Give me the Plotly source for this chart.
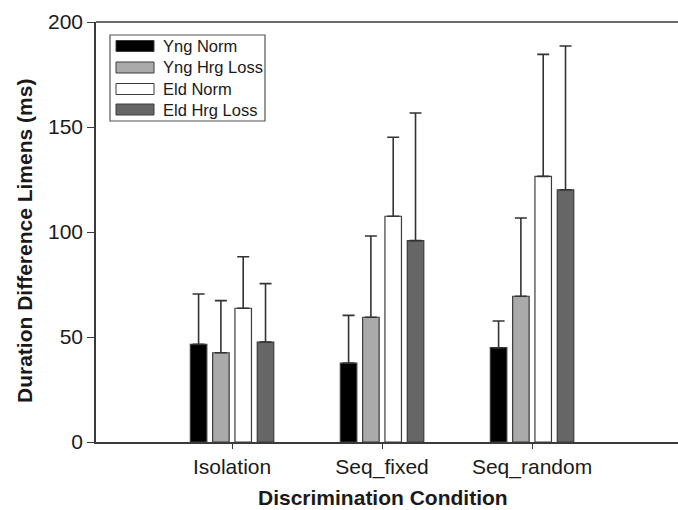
import plotly.graph_objects as go

# Discrimination conditions on the x axis
conditions = ["Isolation", "Seq_fixed", "Seq_random"]

# Group names, fills and mean duration difference limens (ms)
groups = ["Yng Norm", "Yng Hrg Loss", "Eld Norm", "Eld Hrg Loss"]
fills = ["#000000", "#aaaaaa", "#ffffff", "#666666"]

yng_norm = [46.5, 37.6, 44.9]
yng_hrg_loss = [42.5, 59.4, 69.4]
eld_norm = [63.7, 107.5, 126.5]
eld_hrg_loss = [47.6, 95.9, 120.1]

# Upper standard deviation for each group
yng_norm_sd = [24.0, 22.7, 12.7]
yng_hrg_loss_sd = [24.8, 38.7, 37.3]
eld_norm_sd = [24.5, 37.6, 58.1]
eld_hrg_loss_sd = [27.8, 60.8, 68.5]

means = [yng_norm, yng_hrg_loss, eld_norm, eld_hrg_loss]
sds = [yng_norm_sd, yng_hrg_loss_sd, eld_norm_sd, eld_hrg_loss_sd]

FONT = "Liberation Sans, Arial, Helvetica, sans-serif"
AXIS = "#3a3a3a"
TEXT = "#1a1a1a"

fig = go.Figure()
for name, fill, m, sd in zip(groups, fills, means, sds):
    fig.add_trace(go.Bar(
        x=conditions, y=m, name=name,
        marker=dict(color=fill, line=dict(color="#3c3c3c", width=1.2)),
        error_y=dict(type="data", array=sd, symmetric=False,
                     arrayminus=[0] * len(sd),
                     color="#333333", thickness=1.6, width=6),
        showlegend=False,
    ))

# Plot area geometry in pixels (for the hand-drawn legend and titles)
W, H = 678, 510
L, R, T, B = 96, 0, 22, 68
pw, ph = W - L - R, H - T - B

def px_x(x):
    return (x - L) / pw

def px_y(y):
    return (H - B - y) / ph

shapes = [
    # top frame line
    dict(type="line", xref="paper", yref="paper", x0=0, x1=1, y0=1, y1=1,
         line=dict(color=AXIS, width=1.6)),
    # legend box
    dict(type="rect", xref="paper", yref="paper",
         x0=px_x(110), x1=px_x(265), y0=px_y(121), y1=px_y(35),
         line=dict(color="#555555", width=1.2), fillcolor="white"),
]
annotations = []
row_y = [46, 67.5, 89, 109.5]
for name, fill, ry in zip(groups, fills, row_y):
    shapes.append(dict(type="rect", xref="paper", yref="paper",
                       x0=px_x(116), x1=px_x(154),
                       y0=px_y(ry + 5.5), y1=px_y(ry - 5.5),
                       line=dict(color="#3c3c3c", width=1), fillcolor=fill))
    annotations.append(dict(xref="paper", yref="paper", x=px_x(161), y=px_y(ry),
                            text=name, showarrow=False, xanchor="left",
                            yanchor="middle",
                            font=dict(family=FONT, size=16.5, color=TEXT)))

# axis titles
annotations.append(dict(xref="paper", yref="paper", x=px_x(25), y=px_y(241),
                        text="<b>Duration Difference Limens (ms)</b>",
                        textangle=-90, showarrow=False,
                        xanchor="center", yanchor="middle",
                        font=dict(family=FONT, size=21, color=TEXT)))
annotations.append(dict(xref="paper", yref="paper", x=px_x(383), y=px_y(497),
                        text="<b>Discrimination Condition</b>",
                        showarrow=False, xanchor="center", yanchor="middle",
                        font=dict(family=FONT, size=21, color=TEXT)))

fig.update_layout(
    width=W, height=H,
    margin=dict(l=L, r=R, t=T, b=B, pad=0),
    paper_bgcolor="white", plot_bgcolor="white",
    barmode="group", bargap=0.405, bargroupgap=0.26,
    font=dict(family=FONT, color=TEXT),
    shapes=shapes, annotations=annotations,
    xaxis=dict(
        type="category", range=[-0.907, 2.973], automargin=False,
        showline=True, linecolor=AXIS, linewidth=1.6,
        ticks="outside", ticklen=5, tickcolor=AXIS, tickwidth=1.4,
        showgrid=False, zeroline=False,
        tickfont=dict(size=21, family=FONT, color=TEXT),
    ),
    yaxis=dict(
        range=[0, 200], tickvals=[0, 50, 100, 150, 200], automargin=False,
        showline=True, linecolor=AXIS, linewidth=1.6,
        ticks="outside", ticklen=7, tickcolor=AXIS, tickwidth=1.4,
        showgrid=False, zeroline=False,
        tickfont=dict(size=21, family=FONT, color=TEXT),
    ),
)

fig.write_html("out.html")
